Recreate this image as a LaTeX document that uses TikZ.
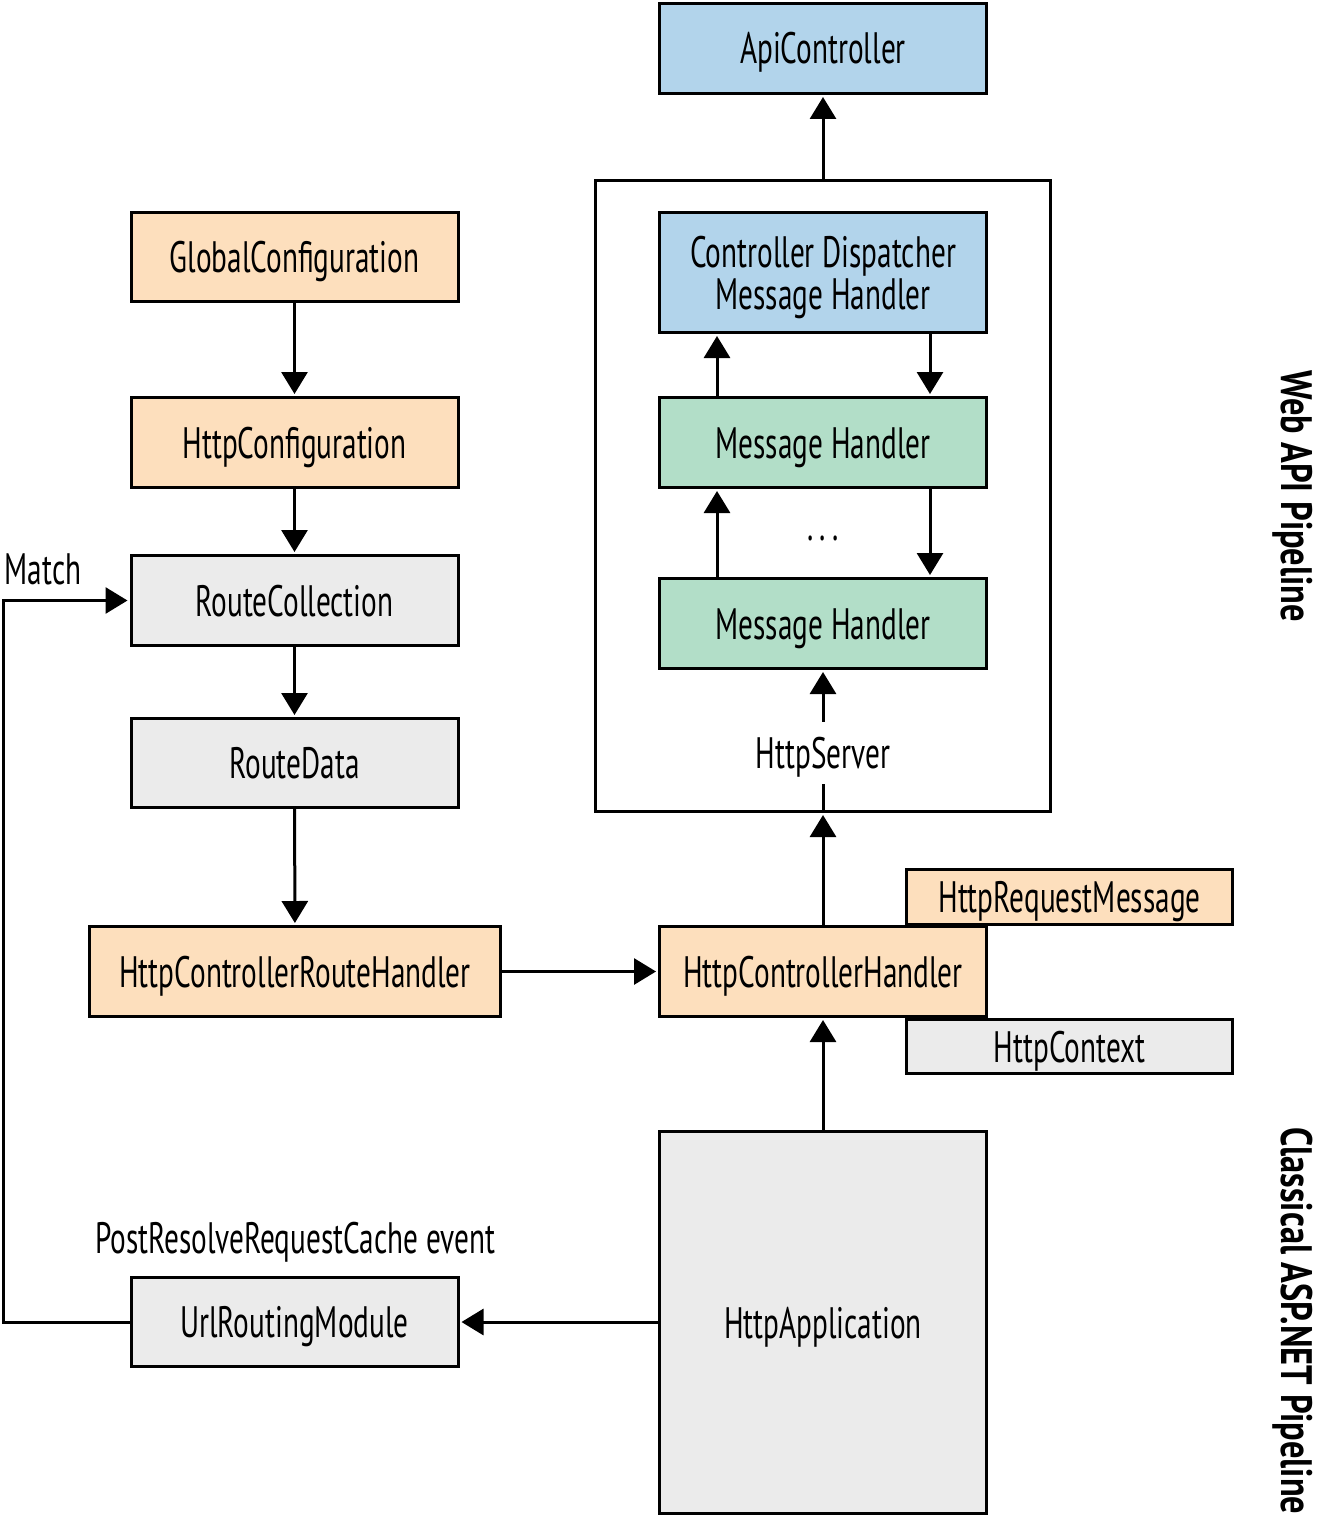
\documentclass[tikz,border=0pt]{standalone}
\usepackage{fontspec}
\setmainfont{PT Sans}[FakeStretch=0.665,BoldFeatures={FakeStretch=0.78}]
\usetikzlibrary{arrows.meta}
\definecolor{peach}{HTML}{FDDFBD}
\definecolor{lblue}{HTML}{B2D4EB}
\definecolor{lgreen}{HTML}{B2DEC8}
\definecolor{lgray}{HTML}{EBEBEB}
\begin{document}
\begin{tikzpicture}[x=1pt,y=-1pt,
  box/.style={draw=black,line width=3pt,minimum width=327pt,minimum height=90pt,inner sep=0pt,text height=31pt,text depth=0pt,font=\fontsize{44}{50}\selectfont},
  lbl/.style={inner sep=0pt,text height=31pt,text depth=0pt,font=\fontsize{44}{50}\selectfont},
  vlbl/.style={inner sep=0pt,rotate=-90,text height=31pt,text depth=0pt,font=\fontsize{44}{50}\selectfont\bfseries},
  arr/.style={line width=3pt,-{Triangle[length=22pt,width=26pt]},shorten >=2pt},
  ln/.style={line width=3pt}]
\useasboundingbox (0,0) rectangle (1321,1517);
% container
\node[draw=black,line width=3pt,minimum width=455pt,minimum height=631pt,inner sep=0pt] (cont) at (823,496) {};
% right column
\node[box,fill=lblue] (api) at (823,48.5) {ApiController};
\node[box,fill=lblue,minimum height=120pt,align=center,text height=73pt,text depth=0pt,font=\fontsize{44}{42}\selectfont] (cd) at (823,272.5) {Controller Dispatcher\\Message Handler};
\node[box,fill=lgreen] (mh1) at (823,442.5) {Message Handler};
\node[inner sep=0pt,font=\fontsize{44}{50}\selectfont] (dots) at (823,538) {.\hspace{6pt}.\hspace{6pt}.};
\node[box,fill=lgreen] (mh2) at (823,623.5) {Message Handler};
\node[lbl,minimum height=62pt] (hs) at (823,753) {HttpServer};
\node[box,fill=peach,minimum width=326pt,minimum height=55pt] (hrm) at (1069.5,897) {HttpRequestMessage};
\node[box,fill=lgray,minimum width=326pt,minimum height=54pt] (hctx) at (1069.5,1046.5) {HttpContext};
\node[box,fill=peach] (hch) at (823,971.5) {HttpControllerHandler};
\node[box,fill=lgray,minimum height=382pt] (happ) at (823,1322.5) {HttpApplication};
% left column
\node[box,fill=peach,minimum height=89pt] (gc) at (294.5,257) {GlobalConfiguration};
\node[box,fill=peach] (hc) at (294.5,442.5) {HttpConfiguration};
\node[box,fill=lgray] (rc) at (294.5,600.5) {RouteCollection};
\node[box,fill=lgray,minimum height=89pt] (rd) at (294.5,763) {RouteData};
\node[box,fill=peach,minimum width=411pt] (hcrh) at (295,971.5) {HttpControllerRouteHandler};
\node[box,fill=lgray,minimum height=89pt] (urm) at (294.5,1322) {UrlRoutingModule};
\node[lbl] (prc) at (295,1238) {PostResolveRequestCache event};
\node[lbl] (match) at (43,569) {Match};
% side labels
\node[vlbl] (wap) at (1297,496) {Web API Pipeline};
\node[vlbl] (cap) at (1297,1321) {Classical ASP.NET Pipeline};
% connectors
\draw[arr] (gc) -- (hc);
\draw[arr] (hc) -- (rc);
\draw[arr] (rc) -- (rd);
\draw[arr] (rd) -- (hcrh);
\draw[arr] (hcrh) -- (hch);
\draw[arr] (happ) -- (hch);
\draw[arr] (happ.west |- urm) -- (urm);
\draw[arr] (urm.west) -- ++(-126,0) |- (rc.west);
\draw[arr] (hch) -- (cont.south);
\draw[ln] (cont.south) -- (hs.south);
\draw[arr] (hs.north) -- (mh2.south);
\draw[arr] ([xshift=-106pt]mh2.north) -- ([xshift=-106pt]mh1.south);
\draw[arr] ([xshift=107pt]mh1.south) -- ([xshift=107pt]mh2.north);
\draw[arr] ([xshift=-106pt]mh1.north) -- ([xshift=-106pt]cd.south);
\draw[arr] ([xshift=107pt]cd.south) -- ([xshift=107pt]mh1.north);
\draw[arr] (cont.north) -- (api.south);
\end{tikzpicture}
\end{document}
